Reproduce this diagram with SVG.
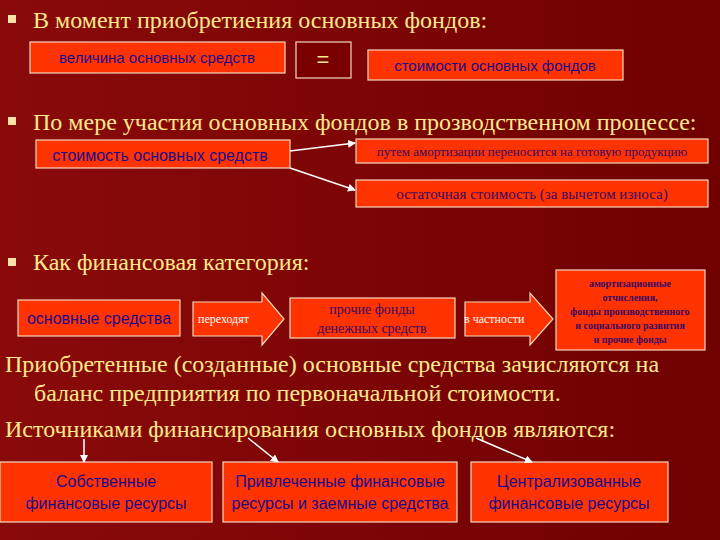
<svg xmlns="http://www.w3.org/2000/svg" width="720" height="540" viewBox="0 0 720 540">
<defs>
<linearGradient id="bg" x1="0" y1="0" x2="1" y2="0"><stop offset="0" stop-color="#8a0a0a"/><stop offset="1" stop-color="#700000"/></linearGradient>
<marker id="ah" markerWidth="8" markerHeight="8" refX="7" refY="4" orient="auto" markerUnits="userSpaceOnUse"><path d="M0,0 L8,4 L0,8 z" fill="#fff"/></marker>
</defs>
<style>
.h{font-family:"Liberation Serif",serif;font-size:24px;fill:#ffe98a}
.b{fill:#ff3300;stroke:#f4d7c0;stroke-width:1.2}
.s{font-family:"Liberation Sans",sans-serif;fill:#1a0a8c}
.t{font-family:"Liberation Serif",serif;fill:#3a0a60}
.bul{fill:#ffe2a8}
.c{stroke:#fff;stroke-width:1.5;fill:none;marker-end:url(#ah)}
</style>
<rect width="720" height="540" fill="url(#bg)"/>
<rect class="bul" x="8" y="15" width="8" height="8"/>
<text class="h" x="33" y="28">В момент приобретиения основных фондов:</text>
<rect class="bul" x="8" y="117" width="8" height="8"/>
<text class="h" x="33" y="130">По мере участия основных фондов в прозводственном процессе:</text>
<rect class="bul" x="8" y="258" width="8" height="8"/>
<text class="h" x="33" y="270">Как финансовая категория:</text>
<text class="h" x="5" y="372">Приобретенные (созданные) основные средства зачисляются на</text>
<text class="h" x="34" y="401">баланс предприятия по первоначальной стоимости.</text>
<text class="h" x="5" y="437">Источниками финансирования основных фондов являются:</text>

<g id="n1"><rect class="b" x="30" y="42" width="255" height="31"/><text class="s" x="157" y="63" font-size="15" text-anchor="middle">величина основных средств</text></g>
<g id="n2"><rect x="296" y="42" width="55" height="36" fill="#7a0000" stroke="#f4d7c0" stroke-width="1.2"/><text x="323" y="67" font-family="Liberation Sans,sans-serif" font-size="22" fill="#ffe98a" text-anchor="middle">=</text></g>
<g id="n3"><rect class="b" x="368" y="50" width="255" height="30"/><text class="s" x="495" y="71" font-size="15" text-anchor="middle">стоимости основных фондов</text></g>

<g id="n4"><rect class="b" x="36" y="140" width="254" height="28"/><text class="s" x="160" y="161" font-size="16" text-anchor="middle">стоимость основных средств</text></g>
<g id="n5"><rect class="b" x="356" y="139" width="352" height="24"/><text class="t" x="532" y="156" font-size="13" text-anchor="middle">путем амортизации переносится на готовую продукцию</text></g>
<g id="n6"><rect class="b" x="356" y="180" width="352" height="27"/><text class="t" x="532" y="199" font-size="15" text-anchor="middle">остаточная стоимость (за вычетом износа)</text></g>

<g id="n7"><rect class="b" x="18" y="300" width="162" height="36"/><text class="s" x="99" y="324" font-size="16" text-anchor="middle">основные средства</text></g>
<g id="n8"><path class="b" d="M193,302 H262 V293 L284,319 L262,345 V336 H193 Z"/><text x="198" y="323" font-family="Liberation Serif,serif" font-size="12" fill="#fff">переходят</text></g>
<g id="n9"><rect class="b" x="290" y="298" width="165" height="40"/><text class="t" x="372" y="314" font-size="14" text-anchor="middle">прочие фонды</text><text class="t" x="372" y="333" font-size="14" text-anchor="middle">денежных средств</text></g>
<g id="n10"><path class="b" d="M465,302 H530 V293 L553,319 L530,345 V336 H465 Z"/><text x="464" y="323" font-family="Liberation Serif,serif" font-size="12" fill="#fff">в частности</text></g>
<g id="n11"><rect class="b" x="556" y="270" width="149" height="80"/>
<g class="t" font-size="10" font-weight="bold" text-anchor="middle" fill="#2a0a70"><text x="630" y="287">амортизационные</text><text x="630" y="301">отчисления,</text><text x="630" y="315">фонды производственного</text><text x="630" y="329">и социального развития</text><text x="630" y="343">и прочие фонды</text></g></g>

<g id="n12"><rect class="b" x="0" y="462" width="212" height="60"/><text class="s" x="106" y="487" font-size="16" text-anchor="middle">Собственные</text><text class="s" x="106" y="509" font-size="16" text-anchor="middle">финансовые ресурсы</text></g>
<g id="n13"><rect class="b" x="223" y="462" width="234" height="60"/><text class="s" x="340" y="487" font-size="16" text-anchor="middle">Привлеченные финансовые</text><text class="s" x="340" y="509" font-size="16" text-anchor="middle">ресурсы и заемные средства</text></g>
<g id="n14"><rect class="b" x="471" y="462" width="197" height="60"/><text class="s" x="569" y="487" font-size="16" text-anchor="middle">Централизованные</text><text class="s" x="569" y="509" font-size="16" text-anchor="middle">финансовые ресурсы</text></g>

<g id="connectors">
<line class="c" x1="290" y1="151" x2="355" y2="143"/>
<line class="c" x1="290" y1="168" x2="355" y2="190"/>
<line class="c" x1="84" y1="439" x2="84" y2="462"/>
<line class="c" x1="248" y1="438" x2="278" y2="462"/>
<line class="c" x1="476" y1="438" x2="532" y2="462"/>
</g>
</svg>
